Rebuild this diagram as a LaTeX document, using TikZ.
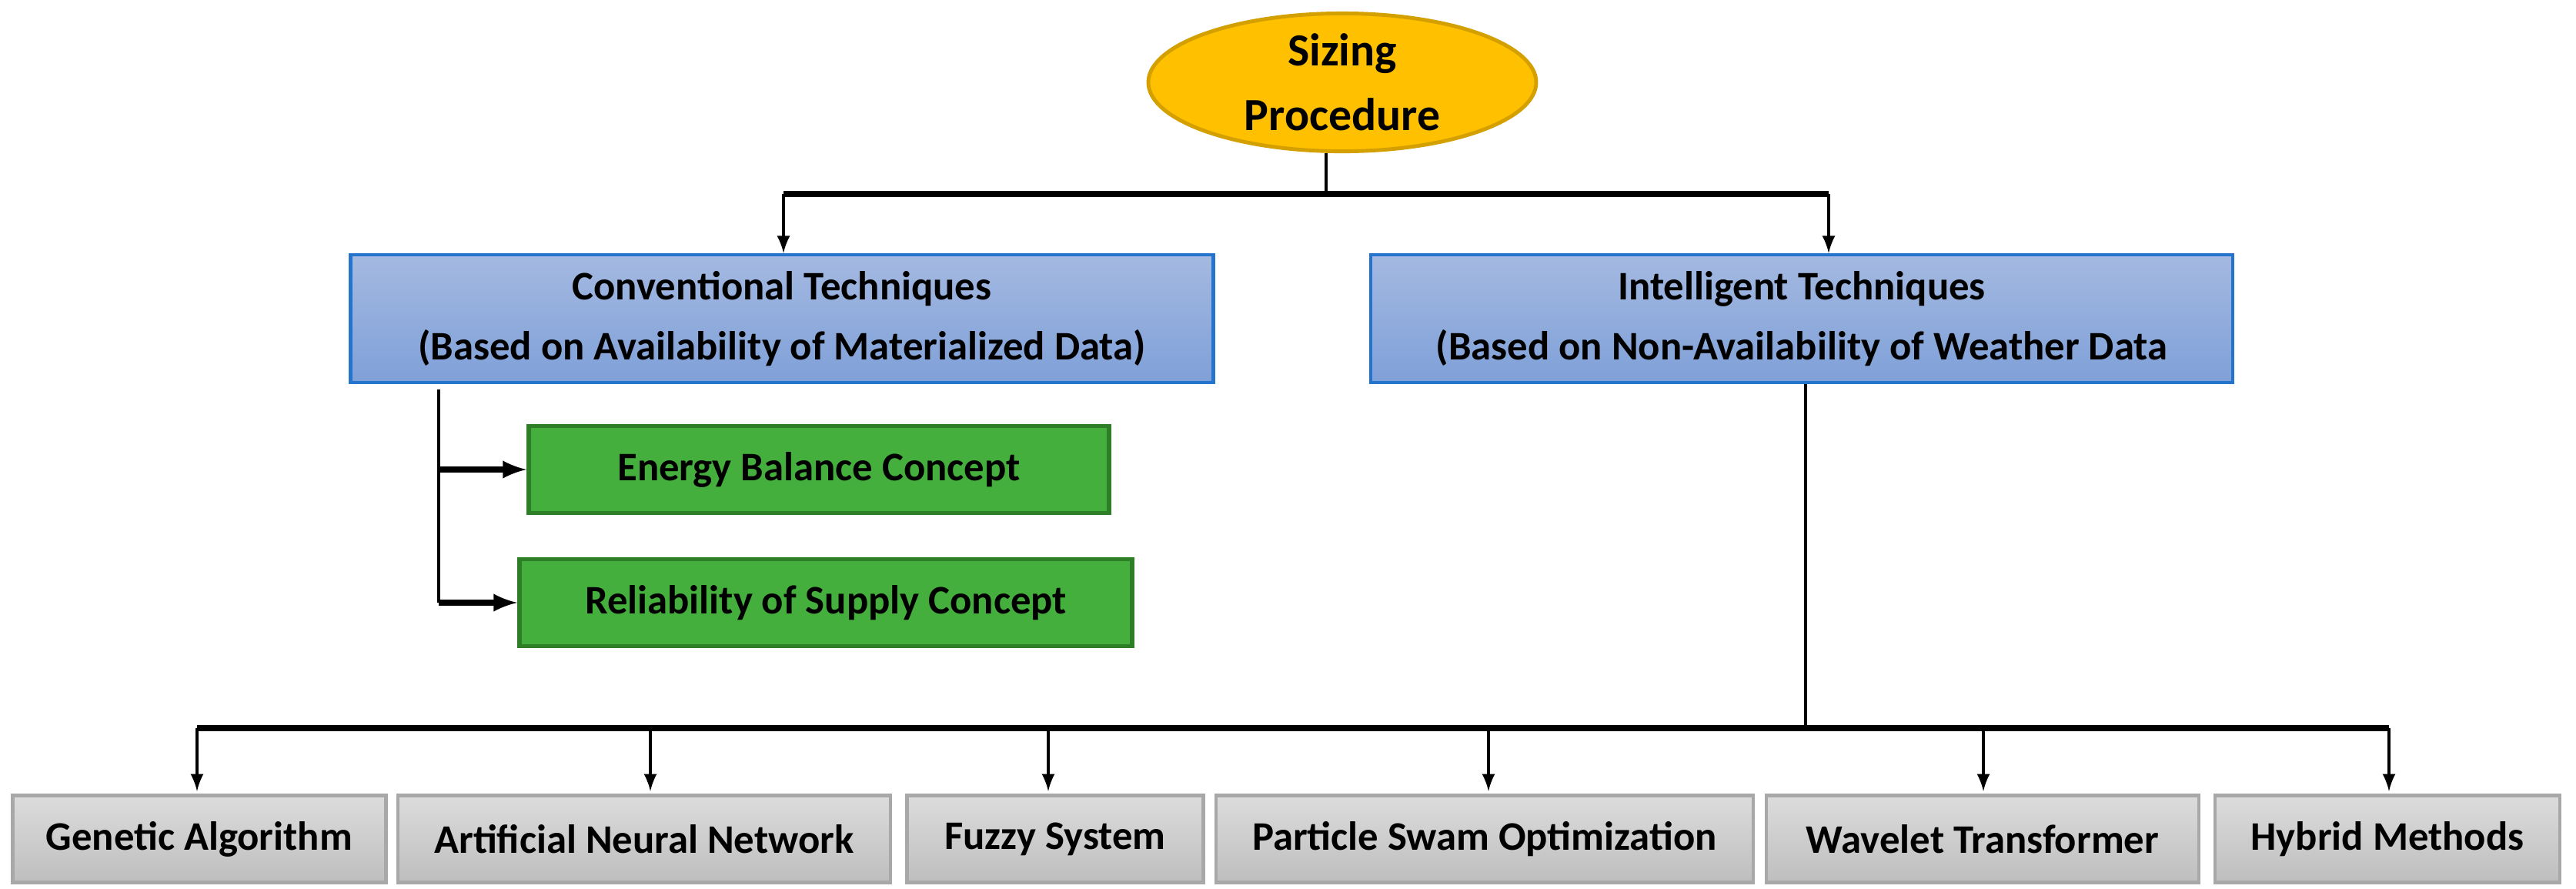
\documentclass[tikz,border=0pt]{standalone}
\usepackage{fontspec}
\setmainfont{Carlito}
\usetikzlibrary{arrows, calc, shapes.geometric}

\definecolor{gold}{HTML}{FFC000}
\definecolor{goldline}{HTML}{D4A000}
\definecolor{bluetop}{HTML}{A4B9E1}
\definecolor{bluebot}{HTML}{7FA0D8}
\definecolor{blueline}{HTML}{2473CC}
\definecolor{leaf}{HTML}{44AF3C}
\definecolor{leafline}{HTML}{2E7D27}
\definecolor{greytop}{HTML}{DCDCDC}
\definecolor{greybot}{HTML}{BEBEBE}
\definecolor{greyline}{HTML}{A8A8A8}

\tikzset{
    txt/.style={font=\bfseries\fontsize{15}{22}\selectfont, align=center, inner sep=0pt},
    branch/.style={txt, rectangle, minimum height=1.66cm, top color=bluetop, bottom color=bluebot, draw=blueline, line width=1.2pt},
    concept/.style={txt, rectangle, minimum height=1.13cm, fill=leaf, draw=leafline, line width=1.6pt},
    method/.style={txt, rectangle, minimum height=1.13cm, top color=greytop, bottom color=greybot, draw=greyline, line width=1.2pt},
    bar/.style={line width=2.4pt},
    link/.style={line width=1.2pt},
    arr/.style={line width=1.2pt, -latex}
}

\begin{document}
\begin{tikzpicture}
    \useasboundingbox (0,0) rectangle (33.47,-11.54);

    \node[txt, ellipse, minimum width=5.04cm, minimum height=1.5cm, fill=gold, draw=goldline, line width=1.4pt,
          font=\bfseries\fontsize{17}{24}\selectfont] (sizing) at (17.44,-1.07) {Sizing\\Procedure};

    \node[branch, minimum width=11.21cm] (conv) at (10.16,-4.14) {Conventional Techniques\\(Based on Availability of Materialized Data)};
    \node[branch, minimum width=11.20cm] (intel) at (23.41,-4.14) {Intelligent Techniques\\(Based on Non-Availability of Weather Data};

    \node[concept, minimum width=7.54cm] (energy) at (10.64,-6.10) {Energy Balance Concept};
    \node[concept, minimum width=7.96cm] (supply) at (10.73,-7.83) {Reliability of Supply Concept};

    \node[method, minimum width=4.85cm] (ga) at (2.59,-10.90) {Genetic Algorithm};
    \node[method, minimum width=6.40cm] (ann) at (8.37,-10.90) {Artificial Neural Network};
    \node[method, minimum width=3.85cm] (fuzzy) at (13.71,-10.90) {Fuzzy System};
    \node[method, minimum width=6.98cm] (pso) at (19.29,-10.90) {Particle Swam Optimization};
    \node[method, minimum width=5.62cm] (wave) at (25.76,-10.90) {Wavelet Transformer};
    \node[method, minimum width=4.48cm] (hybrid) at (31.02,-10.90) {Hybrid Methods};

    % top split
    \coordinate (top) at (17.23,-2.52);
    \coordinate (topL) at (10.18,-2.52);
    \coordinate (topR) at (23.76,-2.52);
    \draw[link] (sizing.south -| top) -- (top);
    \draw[bar] (topL) -- (topR);
    \draw[arr] (topL) -- (topL |- conv.north);
    \draw[arr] (topR) -- (topR |- intel.north);

    % conventional side
    \coordinate (convL) at (5.70,-5.06);
    \draw[link] (convL) -- (5.70,-7.83);
    \draw[arr, line width=2pt] (convL |- energy.west) -- (energy.west);
    \draw[arr, line width=2pt] (convL |- supply.west) -- (supply.west);

    % intelligent side
    \coordinate (low) at (23.46,-9.46);
    \draw[link] (intel.south -| low) -- (low);
    \draw[bar] (2.56,-9.46) -- (31.04,-9.46);
    \foreach \n/\x in {ga/2.56, ann/8.45, fuzzy/13.62, pso/19.34, wave/25.77, hybrid/31.04}
        \draw[arr] (\x,-9.46) -- (\x,-10.28);
\end{tikzpicture}
\end{document}
